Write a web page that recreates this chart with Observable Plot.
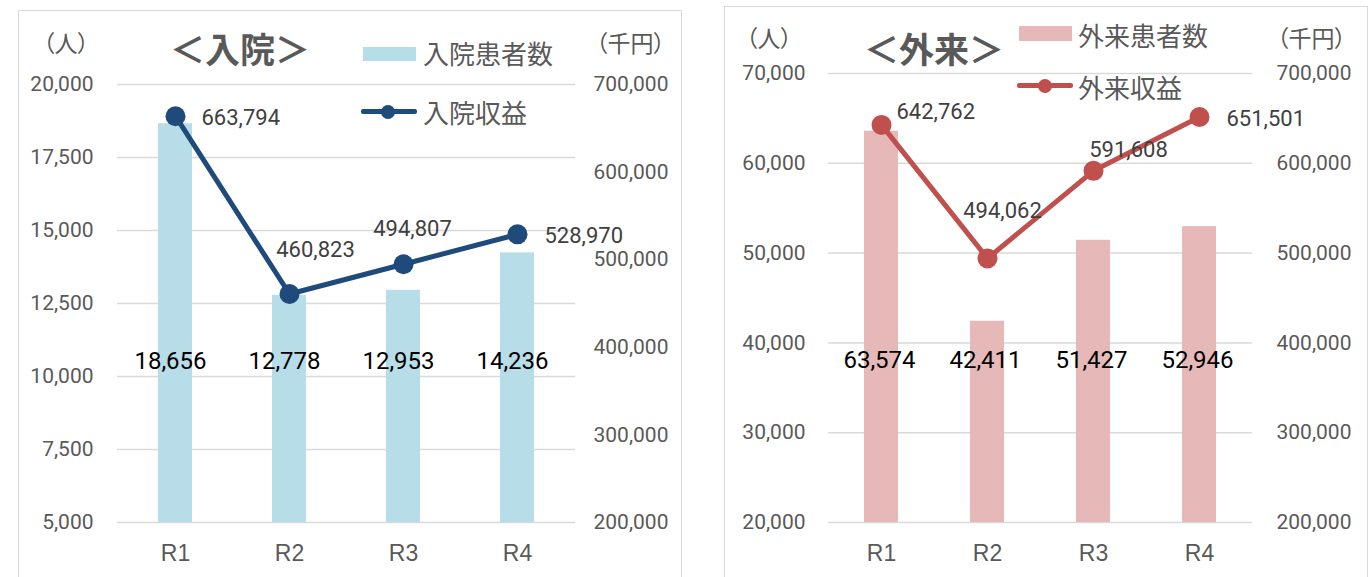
<!DOCTYPE html>
<html>
<head>
<meta charset="utf-8">
<script src="https://cdn.jsdelivr.net/npm/d3@7"></script>
<script src="https://cdn.jsdelivr.net/npm/@observablehq/plot@0.6"></script>
<style>
  html, body { margin: 0; padding: 0; background: #fff; }
  #wrap { position: relative; width: 1370px; height: 577px; overflow: hidden; background: #fff; }
  .abs { position: absolute; white-space: nowrap; line-height: 1; }
  .jp { font-family: "Noto Sans CJK JP", sans-serif; color: #595959; }
  .palt { font-feature-settings: "palt"; }
  .frame { position: absolute; border: 1.5px solid #d9d9d9; border-bottom: none; box-sizing: border-box; pointer-events: none; }
  .panel { position: absolute; }
  .swatch { position: absolute; }
  .xax text { font-family: "Liberation Sans", Arial, sans-serif; font-size: 23px; }
</style>
</head>
<body>
<div id="wrap">
  <div class="frame" style="left:18px; top:10px; width:664px; height:580px;"></div>
  <div class="frame" style="left:724px; top:6px; width:644px; height:580px;"></div>
  <div id="p1" class="panel" style="left:18px; top:10px;"></div>
  <div id="p2" class="panel" style="left:724px; top:6px;"></div>

  <!-- left panel texts -->
  <div class="abs jp palt" style="left:43px; top:31px; font-size:23px;">（人）</div>
  <div class="abs jp" style="left:170px; top:30px; font-size:35px; font-weight:bold;">＜入院＞</div>
  <div class="swatch" style="left:363px; top:47px; width:53px; height:14px; background:#b7dee8;"></div>
  <div class="abs jp" style="left:423px; top:40px; font-size:26px;">入院患者数</div>
  <div class="swatch" style="left:361px; top:109px; width:56px; height:5px; background:#1f4a7c; border-radius:2px;"></div>
  <div class="swatch" style="left:381px; top:105px; width:14px; height:14px; background:#1f4a7c; border-radius:50%;"></div>
  <div class="abs jp" style="left:423px; top:99px; font-size:26px;">入院収益</div>
  <div class="abs jp palt" style="left:596px; top:31px; font-size:23px;">（千円）</div>

  <!-- right panel texts -->
  <div class="abs jp palt" style="left:746px; top:26px; font-size:23px;">（人）</div>
  <div class="abs jp" style="left:864px; top:30px; font-size:35px; font-weight:bold;">＜外来＞</div>
  <div class="swatch" style="left:1019px; top:26px; width:53px; height:15px; background:#e6b9b8;"></div>
  <div class="abs jp" style="left:1078px; top:22px; font-size:26px;">外来患者数</div>
  <div class="swatch" style="left:1017px; top:83px; width:56px; height:5px; background:#c0504d; border-radius:2px;"></div>
  <div class="swatch" style="left:1038px; top:79px; width:14px; height:14px; background:#c0504d; border-radius:50%;"></div>
  <div class="abs jp" style="left:1078px; top:74px; font-size:26px;">外来収益</div>
  <div class="abs jp palt" style="left:1277px; top:26px; font-size:23px;">（千円）</div>
</div>
<script>
// ---- data ----
const years = ["R1", "R2", "R3", "R4"];
const inpatientCounts = [18656, 12778, 12953, 14236];
const inpatientRevenue = [663794, 460823, 494807, 528970];
const outpatientCounts = [63574, 42411, 51427, 52946];
const outpatientRevenue = [642762, 494062, 591608, 651501];
const inLeftTicks = [5000, 7500, 10000, 12500, 15000, 17500, 20000];
const outLeftTicks = [20000, 30000, 40000, 50000, 60000, 70000];
const revenueTicks = [200000, 300000, 400000, 500000, 600000, 700000];

const fmt = d3.format(",");

function makePanel(cfg) {
  const data = years.map((y, i) => ({year: y, count: cfg.counts[i], revenue: cfg.revenue[i]}));
  const lo = cfg.leftTicks[0], hi = cfg.leftTicks[cfg.leftTicks.length - 1];
  const rlo = revenueTicks[0], rhi = revenueTicks[revenueTicks.length - 1];
  const toLeft = v => lo + (v - rlo) * (hi - lo) / (rhi - rlo);
  const fromLeft = v => rlo + (v - lo) * (rhi - rlo) / (hi - lo);

  const labelMarks = cfg.lineLabels.map((o, i) =>
    Plot.text([data[i]], {
      x: "year", y: d => toLeft(d.revenue), text: d => fmt(d.revenue),
      dx: o.dx, dy: o.dy, textAnchor: o.anchor, lineAnchor: "middle",
      fill: "#404040", fontSize: 22, fontFamily: "Roboto"
    })
  );

  return Plot.plot({
    width: cfg.width, height: cfg.height,
    marginLeft: cfg.ml, marginRight: cfg.mr, marginTop: cfg.mt, marginBottom: cfg.mb,
    x: {domain: years, paddingInner: cfg.pad, paddingOuter: cfg.pad / 2, label: null, axis: null},
    y: {domain: [lo, hi], label: null, axis: null},
    style: {fontFamily: "Roboto", fontSize: "21px", color: "#595959", background: "transparent", overflow: "visible"},
    marks: [
      Plot.gridY(cfg.leftTicks, {stroke: "#d9d9d9", strokeOpacity: 1, strokeWidth: 1.5}),
      Plot.barY(data, {x: "year", y1: lo, y2: "count", fill: cfg.barColor}),
      Plot.axisY(cfg.leftTicks, {anchor: "left", tickSize: 0, tickPadding: cfg.lpad, tickFormat: fmt, fontSize: 21, fontFamily: "Roboto", label: null}),
      Plot.axisY(revenueTicks.map(toLeft), {anchor: "right", tickSize: 0, tickPadding: cfg.rpad, tickFormat: v => fmt(Math.round(fromLeft(v))), fontSize: 21, fontFamily: "Roboto", label: null}),
      Plot.axisX({tickSize: 0, tickPadding: 22, fontSize: 23, fontFamily: "Liberation Sans", label: null, className: "xax"}),
      Plot.lineY(data, {x: "year", y: d => toLeft(d.revenue), stroke: cfg.lineColor, strokeWidth: 5}),
      Plot.dot(data, {x: "year", y: d => toLeft(d.revenue), r: 10, fill: cfg.lineColor}),
      Plot.text(data, {x: "year", frameAnchor: "bottom", dy: cfg.barLabelDy, dx: cfg.barLabelDx, text: d => fmt(d.count), fill: "#000", fontSize: 24, fontFamily: "Roboto", lineAnchor: "middle"}),
      ...labelMarks
    ]
  });
}

document.getElementById("p1").appendChild(makePanel({
  counts: inpatientCounts, revenue: inpatientRevenue, leftTicks: inLeftTicks,
  width: 663, height: 567, ml: 99, mr: 106, mt: 74, mb: 55, pad: 0.7, lpad: 24, rpad: 18,
  barColor: "#b7dee8", lineColor: "#1f4a7c", barLabelDy: -161, barLabelDx: -5,
  lineLabels: [
    {dx: 26, dy: 2, anchor: "start"},
    {dx: 26, dy: -44, anchor: "middle"},
    {dx: 9, dy: -35, anchor: "middle"},
    {dx: 27, dy: 2, anchor: "start"}
  ]
}));

document.getElementById("p2").appendChild(makePanel({
  counts: outpatientCounts, revenue: outpatientRevenue, leftTicks: outLeftTicks,
  width: 643, height: 571, ml: 104, mr: 115, mt: 67, mb: 55, pad: 0.68, lpad: 23, rpad: 24,
  barColor: "#e6b9b8", lineColor: "#c0504d", barLabelDy: -162, barLabelDx: -2,
  lineLabels: [
    {dx: 15, dy: -13, anchor: "start"},
    {dx: 15, dy: -47, anchor: "middle"},
    {dx: 35, dy: -21, anchor: "middle"},
    {dx: 27, dy: 2, anchor: "start"}
  ]
}));
</script>
</body>
</html>
